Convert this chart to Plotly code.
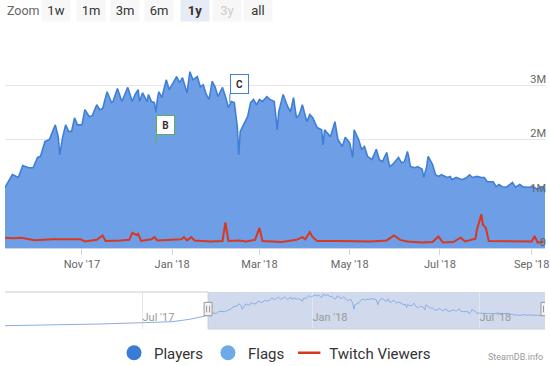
import plotly.graph_objects as go

# ---------------- data ----------------
players_dates = [
    "2017-09-10", "2017-09-15", "2017-09-19", "2017-09-22", "2017-09-26", "2017-09-29",
    "2017-10-02", "2017-10-04", "2017-10-07", "2017-10-10", "2017-10-14", "2017-10-16",
    "2017-10-17", "2017-10-19", "2017-10-21", "2017-10-23", "2017-10-25", "2017-10-27",
    "2017-10-29", "2017-11-01", "2017-11-03", "2017-11-06", "2017-11-08", "2017-11-11",
    "2017-11-13", "2017-11-15", "2017-11-18", "2017-11-21", "2017-11-22", "2017-11-25",
    "2017-11-28", "2017-12-02", "2017-12-05", "2017-12-07", "2017-12-09", "2017-12-10",
    "2017-12-12", "2017-12-15", "2017-12-16", "2017-12-18", "2017-12-20", "2017-12-21",
    "2017-12-22", "2017-12-23", "2017-12-25", "2017-12-27", "2017-12-28", "2017-12-30",
    "2018-01-02", "2018-01-04", "2018-01-06", "2018-01-08", "2018-01-11", "2018-01-13",
    "2018-01-15", "2018-01-18", "2018-01-20", "2018-01-22", "2018-01-24", "2018-01-26",
    "2018-01-28", "2018-01-30", "2018-02-01", "2018-02-04", "2018-02-06", "2018-02-08",
    "2018-02-10", "2018-02-12", "2018-02-14", "2018-02-15", "2018-02-16", "2018-02-19",
    "2018-02-21", "2018-02-23", "2018-02-25", "2018-02-27", "2018-03-01", "2018-03-03",
    "2018-03-06", "2018-03-08", "2018-03-11", "2018-03-13", "2018-03-14", "2018-03-17",
    "2018-03-20", "2018-03-22", "2018-03-24", "2018-03-26", "2018-03-28", "2018-03-30",
    "2018-04-02", "2018-04-04", "2018-04-06", "2018-04-09", "2018-04-12", "2018-04-13",
    "2018-04-14", "2018-04-18", "2018-04-21", "2018-04-23", "2018-04-26", "2018-04-28",
    "2018-05-01", "2018-05-03", "2018-05-04", "2018-05-07", "2018-05-09", "2018-05-11",
    "2018-05-13", "2018-05-16", "2018-05-19", "2018-05-21", "2018-05-23", "2018-05-26",
    "2018-05-28", "2018-05-30", "2018-06-03", "2018-06-05", "2018-06-07", "2018-06-09",
    "2018-06-10", "2018-06-11", "2018-06-14", "2018-06-16", "2018-06-19", "2018-06-20",
    "2018-06-22", "2018-06-23", "2018-06-26", "2018-06-28", "2018-06-30", "2018-07-02",
    "2018-07-06", "2018-07-08", "2018-07-09", "2018-07-12", "2018-07-16", "2018-07-19",
    "2018-07-21", "2018-07-23", "2018-07-26", "2018-07-29", "2018-07-31", "2018-08-02",
    "2018-08-06", "2018-08-08", "2018-08-10", "2018-08-12", "2018-08-15", "2018-08-19",
    "2018-08-21", "2018-08-24", "2018-08-26", "2018-08-30", "2018-09-02", "2018-09-05",
    "2018-09-07", "2018-09-09", "2018-09-10",
]
players_k = [
    1116, 1355, 1300, 1520, 1480, 1480,
    1670, 1690, 1960, 2000, 2270, 2050,
    1720, 2050, 2270, 2150, 2150, 2400,
    2270, 2270, 2550, 2420, 2440, 2640,
    2550, 2570, 2880, 2680, 2700, 2940,
    2700, 2960, 2700, 2830, 2920, 2700,
    2860, 2700, 2830, 2700, 2680, 2500,
    2740, 2880, 2770, 3010, 3100, 2920,
    3070, 3160, 3050, 3140, 2860, 3250,
    3100, 3160, 2970, 3010, 2830, 2740,
    3070, 2970, 2790, 2960, 2790, 2590,
    2700, 2680, 2240, 1720, 2150, 2330,
    2420, 2680, 2740, 2640, 2740, 2700,
    2790, 2740, 2700, 2180, 2510, 2830,
    2610, 2510, 2770, 2400, 2460, 2640,
    2330, 2460, 2400, 2220, 2180, 1900,
    2180, 2050, 2330, 2000, 1870, 2040,
    1940, 1670, 2180, 2000, 1820, 1870,
    1690, 1630, 1820, 1630, 1590, 1760,
    1500, 1540, 1670, 1570, 1590, 1780,
    1670, 1500, 1480, 1500, 1450, 1300,
    1500, 1690, 1540, 1350, 1320, 1350,
    1300, 1320, 1260, 1300, 1260, 1300,
    1350, 1300, 1320, 1300, 1300, 1220,
    1220, 1130, 1170, 1130, 1120, 1210,
    1120, 1170, 1130, 1120, 1130, 1080,
    1130, 1120, 1020,
]

twitch_dates = [
    "2017-09-10", "2017-09-16", "2017-09-21", "2017-09-30", "2017-10-12", "2017-10-24",
    "2017-10-31", "2017-11-03", "2017-11-11", "2017-11-15", "2017-11-17", "2017-11-27",
    "2017-12-03", "2017-12-05", "2017-12-08", "2017-12-09", "2017-12-11", "2017-12-18",
    "2017-12-20", "2017-12-22", "2017-12-27", "2018-01-07", "2018-01-09", "2018-01-11",
    "2018-01-14", "2018-01-16", "2018-01-27", "2018-02-04", "2018-02-06", "2018-02-08",
    "2018-02-15", "2018-02-20", "2018-02-26", "2018-03-01", "2018-03-03", "2018-03-16",
    "2018-03-26", "2018-03-30", "2018-04-01", "2018-04-04", "2018-04-06", "2018-04-09",
    "2018-04-23", "2018-05-15", "2018-05-26", "2018-05-31", "2018-06-04", "2018-06-09",
    "2018-06-19", "2018-06-26", "2018-06-30", "2018-07-03", "2018-07-10", "2018-07-15",
    "2018-07-18", "2018-07-25", "2018-07-26", "2018-07-29", "2018-07-30", "2018-08-01",
    "2018-08-03", "2018-08-13", "2018-08-25", "2018-09-01", "2018-09-03", "2018-09-05",
    "2018-09-09",
]
twitch_k = [
    190, 180, 190, 145, 160, 155,
    160, 120, 150, 230, 130, 140,
    150, 280, 240, 260, 130, 160,
    200, 140, 150, 160, 200, 140,
    200, 140, 120, 130, 470, 130,
    140, 120, 150, 370, 130, 110,
    150, 200, 160, 290, 200, 130,
    130, 120, 140, 230, 150, 120,
    100, 110, 210, 100, 110, 190,
    120, 170, 340, 620, 430, 370,
    130, 130, 120, 120, 220, 100,
    120,
]

# navigator: earlier history of the Players series (before the 1y window)
nav_early_dates = ["2017-02-02", "2017-03-23", "2017-05-16", "2017-07-01",
                   "2017-08-02", "2017-08-21", "2017-09-04"]
nav_early_k = [80, 150, 250, 380, 480, 720, 1050]

flag_dates = ["2017-12-21", "2018-02-09"]
flag_k = [1910, 2680]
flag_titles = ["B", "C"]

y_tickvals = [0, 1000000, 2000000, 3000000, 4000000]
y_ticktext = ["0", "1M", "2M", "3M", ""]
x_tickvals = ["2017-11-01", "2018-01-01", "2018-03-01", "2018-05-01", "2018-07-01", "2018-09-01"]
x_ticktext = ["Nov '17", "Jan '18", "Mar '18", "May '18", "Jul '18", "Sep '18"]

zoom_buttons = ["1w", "1m", "3m", "6m", "1y", "3y", "all"]
view_start, view_end = "2017-09-10", "2018-09-10"
nav_start = "2017-02-02"

# ---------------- styles ----------------
FONT = "Roboto, 'Noto Sans', sans-serif"
PLAYER_LINE = "#3f7fd6"
PLAYER_FILL = "#6e9ee5"
TWITCH = "#d9381e"
FLAG_BORDERS = ["#5fae55", "#3f7fd6"]

fig = go.Figure()

fig.add_trace(go.Scatter(
    x=players_dates, y=[v * 1000 for v in players_k], mode="lines",
    line=dict(color=PLAYER_LINE, width=1.6), fill="tozeroy", fillcolor=PLAYER_FILL,
    showlegend=False, hoverinfo="skip", xaxis="x", yaxis="y"))

fig.add_trace(go.Scatter(
    x=twitch_dates, y=[v * 1000 for v in twitch_k], mode="lines",
    line=dict(color=TWITCH, width=2), showlegend=False, hoverinfo="skip",
    xaxis="x", yaxis="y"))

fig.add_trace(go.Scatter(
    x=nav_early_dates + players_dates, y=[v * 1000 for v in nav_early_k + players_k],
    mode="lines", line=dict(color="#8aade6", width=1), showlegend=False,
    hoverinfo="skip", xaxis="x2", yaxis="y2"))

# legend entries
fig.add_trace(go.Scatter(x=[None], y=[None], mode="markers", name="Players",
                         marker=dict(symbol="circle", size=15, color="#3a7bd5")))
fig.add_trace(go.Scatter(x=[None], y=[None], mode="markers", name="Flags",
                         marker=dict(symbol="circle", size=15, color="#6eaae8")))
fig.add_trace(go.Scatter(x=[None], y=[None], mode="markers", name="Twitch Viewers",
                         marker=dict(symbol="line-ew", size=16,
                                     line=dict(color=TWITCH, width=2.5))))

annotations = []
# flags
for d, v, t, c in zip(flag_dates, flag_k, flag_titles, FLAG_BORDERS):
    annotations.append(dict(
        x=d, y=v * 1000, xref="x", yref="y", text="<b>%s</b>" % t,
        showarrow=True, arrowhead=0, arrowwidth=1, arrowcolor=c, ax=0, ay=-9,
        xanchor="left", yanchor="bottom", bgcolor="white", bordercolor=c,
        borderwidth=1, borderpad=2, width=13, height=14,
        font=dict(size=10, color="#333", family=FONT)))

# zoom selector
W, H, T, B = 540, 298, 31, 37
def px_x(p):
    return (p - 5) / W
def px_y(p):
    return 1 + (T - p) / H

annotations.append(dict(x=px_x(5), y=px_y(10), xref="paper", yref="paper",
                        text="Zoom", showarrow=False, xanchor="left", yanchor="middle",
                        font=dict(size=12.5, color="#666", family=FONT)))
btn_centers = [55.5, 90.5, 125, 158.5, 194.5, 226.5, 257.5]
for lab, cx in zip(zoom_buttons, btn_centers):
    active = lab == "1y"
    disabled = lab == "3y"
    annotations.append(dict(
        x=px_x(cx), y=px_y(10), xref="paper", yref="paper",
        text="<b>%s</b>" % lab if active else lab, showarrow=False,
        xanchor="center", yanchor="middle", width=26, height=19,
        bgcolor="#e6ebf5" if active else "#f7f7f7",
        font=dict(size=13, color="#cccccc" if disabled else "#333", family=FONT)))

annotations.append(dict(x=1, y=px_y(357), xref="paper", yref="paper", text="SteamDB.info",
                        showarrow=False, xanchor="right", yanchor="middle",
                        font=dict(size=9, color="#999", family=FONT)))

shapes = [
    # navigator selected-range mask
    dict(type="rect", xref="x2", yref="y2 domain", x0=view_start, x1=view_end, y0=0, y1=1,
         fillcolor="rgba(102,133,194,0.3)", line=dict(width=0), layer="below"),
    # navigator outline
    dict(type="line", xref="x2", yref="y2 domain", x0=nav_start, x1=view_start, y0=1, y1=1,
         line=dict(color="#cccccc", width=1)),
    dict(type="line", xref="x2", yref="y2 domain", x0=view_start, x1=view_start, y0=1, y1=0,
         line=dict(color="#cccccc", width=1)),
    dict(type="line", xref="x2", yref="y2 domain", x0=view_start, x1=view_end, y0=0, y1=0,
         line=dict(color="#cccccc", width=1)),
]
for edge in (view_start, view_end):
    shapes.append(dict(type="rect", xref="x2", yref="y2 domain", xsizemode="pixel",
                       xanchor=edge, x0=-4, x1=4, y0=0.36, y1=0.72,
                       fillcolor="#f2f2f2", line=dict(color="#999999", width=1)))
    for off in (-1.5, 1.5):
        shapes.append(dict(type="line", xref="x2", yref="y2 domain", xsizemode="pixel",
                           xanchor=edge, x0=off, x1=off, y0=0.45, y1=0.63,
                           line=dict(color="#999999", width=1)))

fig.update_layout(
    width=550, height=366, autosize=False,
    margin=dict(l=5, r=5, t=T, b=B, autoexpand=False),
    paper_bgcolor="white", plot_bgcolor="white",
    font=dict(family=FONT, color="#666"),
    showlegend=True,
    legend=dict(orientation="h", x=0.5, xanchor="center", y=px_y(353), yanchor="middle",
                font=dict(size=15, color="#333", family=FONT), itemsizing="trace",
                bgcolor="rgba(0,0,0,0)"),
    xaxis=dict(type="date", range=[view_start, view_end], anchor="y", domain=[0, 1],
               tickvals=x_tickvals, ticktext=x_ticktext,
               ticks="outside", ticklen=6, tickcolor="#ccd6eb", ticklabeloverflow="allow",
               showline=True, linecolor="#ccd6eb", showgrid=False, zeroline=False,
               tickfont=dict(size=11, color="#666")),
    # labels right-aligned just inside the right edge of the plot
    yaxis=dict(range=[0, 4000000], domain=[81 / H, 1], anchor="free", position=1,
               side="left", tickvals=y_tickvals, ticktext=y_ticktext,
               ticklabelposition="outside", ticklabelshift=-6, ticklabelstandoff=-1,
               showgrid=True, gridcolor="#e6e6e6", zeroline=False, showline=False,
               tickfont=dict(size=11, color="#666"), ticks=""),
    xaxis2=dict(type="date", range=[nav_start, view_end], anchor="y2", domain=[0, 1],
                tick0="2017-01-01", dtick="M6", tickformat="%b '%y",
                ticklabelposition="inside right", showgrid=True, gridcolor="#e6e6e6",
                ticks="", showline=False, zeroline=False,
                tickfont=dict(size=11, color="#999")),
    yaxis2=dict(range=[-250000, 3450000], domain=[0, 37 / H], anchor="x2",
                visible=False, showgrid=False),
    annotations=annotations,
    shapes=shapes,
)

fig.write_html("out.html", config={"displayModeBar": False},
               post_script="document.body.style.margin='0';")
